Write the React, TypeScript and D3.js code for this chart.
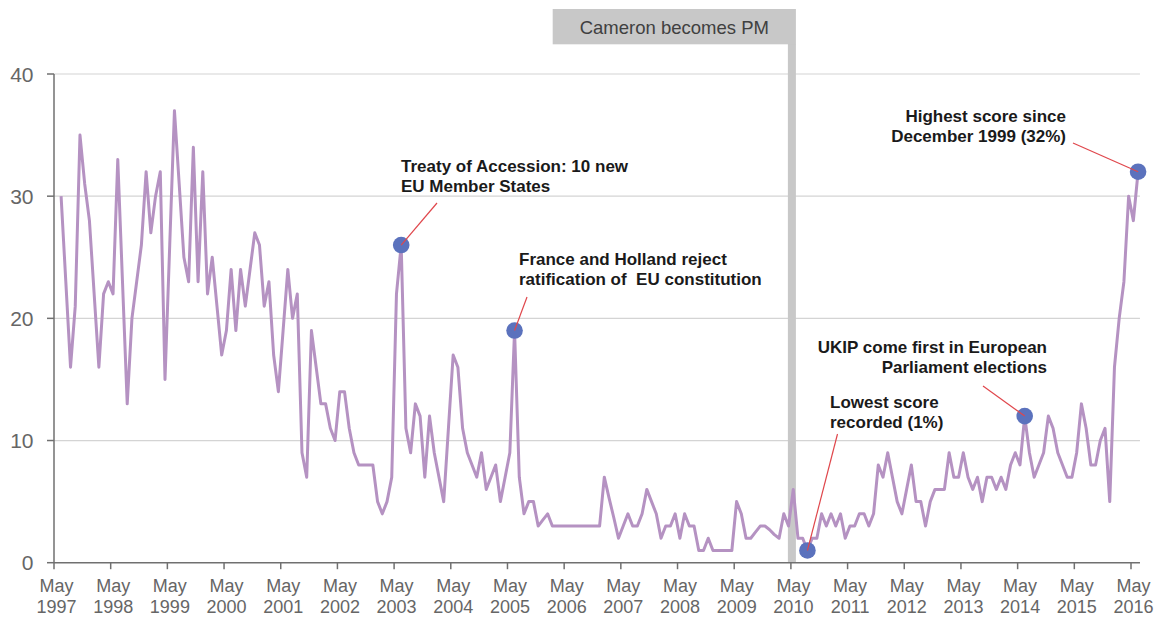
import React from 'react';
import * as d3 from 'd3';

// Monthly scores, first value is June 1997
const START_YEAR = 1997;
const scores = [
  30, 23, 16, 21, 35, 31, 28, 22, 16, 22, 23, 22, 33, 23, 13, 20, 23, 26, 32, 27,
  30, 32, 15, 26, 37, 31, 25, 23, 34, 23, 32, 22, 25, 21, 17, 19, 24, 19, 24, 21,
  24, 27, 26, 21, 23, 17, 14, 19, 24, 20, 22, 9, 7, 19, 16, 13, 13, 11, 10, 14,
  14, 11, 9, 8, 8, 8, 8, 5, 4, 5, 7, 22, 26, 11, 9, 13, 12, 7, 12, 9,
  7, 5, 11, 17, 16, 11, 9, 8, 7, 9, 6, 7, 8, 5, 7, 9, 19, 7, 4, 5,
  5, 3, 3.5, 4, 3, 3, 3, 3, 3, 3, 3, 3, 3, 3, 3, 7, 5.3, 3.7, 2, 3,
  4, 3, 3, 4, 6, 5, 4, 2, 3, 3, 4, 2, 4, 3, 3, 1, 1, 2, 1, 1,
  1, 1, 1, 5, 4, 2, 2, 2.5, 3, 3, 2.7, 2.3, 2, 4, 3, 6, 2, 2, 1, 2,
  2, 4, 3, 4, 3, 4, 2, 3, 3, 4, 4, 3, 4, 8, 7, 9, 7, 5, 4, 6,
  8, 5, 5, 3, 5, 6, 6, 6, 9, 7, 7, 9, 7, 6, 7, 5, 7, 7, 6, 7,
  6, 8, 9, 8, 12, 9, 7, 8, 9, 12, 11, 9, 8, 7, 7, 9, 13, 11, 8, 8,
  10, 11, 5, 16, 20, 23, 30, 28, 32,
];

const tickYears = d3.range(1997, 2017);
const yTicks = [0, 10, 20, 30, 40];

const callouts = [
  { index: 72, lines: ['Treaty of Accession: 10 new', 'EU Member States'] },
  { index: 96, lines: ['France and Holland reject', 'ratification of  EU constitution'] },
  { index: 158, lines: ['Lowest score', 'recorded (1%)'] },
  { index: 204, lines: ['UKIP come first in European', 'Parliament elections'] },
  { index: 228, lines: ['Highest score since', 'December 1999 (32%)'] },
];

// label anchor + leader end, in pixels
const calloutLayout = [
  { x: 401, y: 172, anchor: 'start', lx: 437, ly: 203 },
  { x: 519, y: 265, anchor: 'start', lx: 527, ly: 297 },
  { x: 830, y: 408, anchor: 'start', lx: 837.5, ly: 434 },
  { x: 1047, y: 353, anchor: 'end', lx: 983, ly: 386 },
  { x: 1066, y: 122, anchor: 'end', lx: 1073, ly: 143 },
];

const PM_LABEL = 'Cameron becomes PM';
const PM_MONTH = (2010 - START_YEAR) * 12; // May 2010

const FONT = '"Liberation Sans", Arial, sans-serif';

export default function App() {
  const width = 1161;
  const height = 619;

  // months since May 1997
  const x = d3.scaleLinear().domain([0, 228]).range([54, 1131]);
  const y = d3.scaleLinear().domain([0, 40]).range([562.7, 74]);

  const monthPos = (i: number) => x(i + 1.5); // i=0 is June 1997, centred in its month

  const line = d3.line<number>()
    .x((_d, i) => monthPos(i))
    .y(d => y(d));

  const xEnd = x(229.9);
  const pmX = x(PM_MONTH) + 1;

  return (
    <svg width={width} height={height} style={{ position: 'absolute', left: 0, top: 0, background: '#fff' }} fontFamily={FONT}>
      {/* gridlines */}
      {yTicks.filter(t => t > 0).map(t => (
        <line key={t} x1={x(0)} x2={xEnd} y1={y(t)} y2={y(t)} stroke="#d4d4d4" strokeWidth={1.2} />
      ))}

      {/* Cameron bar */}
      <rect x={pmX - 4} y={44} width={8} height={y(0) - 44} fill="#c8c8c8" />
      <rect x={552.7} y={9} width={pmX + 4 - 552.7} height={35.3} fill="#c8c8c8" />
      <text x={(552.7 + pmX + 4) / 2} y={33.5} textAnchor="middle" fontSize={18.5} fill="#404040">{PM_LABEL}</text>

      {/* axes */}
      <line x1={x(0)} x2={x(0)} y1={y(40)} y2={y(0)} stroke="#707070" strokeWidth={1.5} />
      <line x1={x(0)} x2={xEnd} y1={y(0)} y2={y(0)} stroke="#707070" strokeWidth={1.5} />
      {yTicks.map(t => (
        <g key={t}>
          <line x1={x(0) - 7} x2={x(0)} y1={y(t)} y2={y(t)} stroke="#707070" strokeWidth={1.5} />
          <text x={33.5} y={y(t)} dy="0.36em" textAnchor="end" fontSize={21} fill="#666">{t}</text>
        </g>
      ))}
      {tickYears.map((yr, k) => (
        <g key={yr}>
          <line x1={x(k * 12)} x2={x(k * 12)} y1={y(0)} y2={y(0) + 6.5} stroke="#707070" strokeWidth={1.5} />
          <text x={x(k * 12) + 2.5} y={591.5} textAnchor="middle" fontSize={18} fill="#666">May</text>
          <text x={x(k * 12) + 2.5} y={612.5} textAnchor="middle" fontSize={18} fill="#666">{yr}</text>
        </g>
      ))}

      {/* series */}
      <path d={line(scores) || ''} fill="none" stroke="#b592c2" strokeWidth={3} strokeLinejoin="round" />

      {/* callouts */}
      {callouts.map((c, k) => {
        const lay = calloutLayout[k];
        const cx = monthPos(c.index);
        const cy = y(scores[c.index]);
        return (
          <g key={k}>
            <circle cx={cx} cy={cy} r={8.3} fill="#5b72bd" />
            <line x1={lay.lx} y1={lay.ly} x2={cx} y2={cy} stroke="#e0474c" strokeWidth={1.2} />
            {c.lines.map((t, j) => (
              <text key={j} x={lay.x} y={lay.y + j * 20} textAnchor={lay.anchor as any} fontSize={17} fontWeight="bold" fill="#1a1a1a" style={{ whiteSpace: 'pre' }}>{t}</text>
            ))}
          </g>
        );
      })}
    </svg>
  );
}
